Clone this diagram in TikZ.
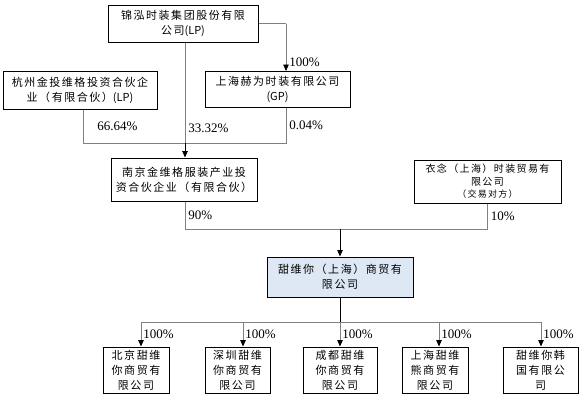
\documentclass[tikz,border=0pt]{standalone}
\usepackage{fontspec}
\setmainfont{Liberation Serif}
\newfontfamily\cjk[LetterSpace=14]{Noto Sans CJK SC}
\newfontfamily\cjklat{Noto Sans CJK SC}
\newcommand{\lat}[1]{{\cjklat #1}}
\usetikzlibrary{arrows.meta}
\definecolor{twfill}{HTML}{DDE8F4}

\tikzset{
  firm/.style={draw, line width=1pt, align=center, inner sep=0pt,
    font=\cjk\fontsize{11}{15}\selectfont},
  pct/.style={anchor=west, inner sep=0pt, xshift=3pt, font=\fontsize{13}{13}\selectfont},
  link/.style={draw=gray, line width=0.8pt},
  arr/.style={line width=0.8pt, -{Triangle[length=6.5pt,width=5.5pt,color=black]}}
}

\begin{document}
\begin{tikzpicture}[x=1pt,y=-1pt]
\useasboundingbox (0,0) rectangle (586,400);

% shareholders
\node[firm, minimum width=150pt, minimum height=37pt] (jh) at (183,23.5) {锦泓时装集团股份有限\\公司\lat{(LP)}};
\node[firm, minimum width=154pt, minimum height=38pt] (hz) at (80,90) {杭州金投维格投资合伙企\\业（有限合伙）\lat{(LP)}};
\node[firm, minimum width=145pt, minimum height=36pt] (sh) at (277.5,89.5) {上海赫为时装有限公司\\\lat{(GP)}};
\node[firm, minimum width=146pt, minimum height=43pt] (nj) at (184,179.5) {南京金维格服装产业投\\资合伙企业（有限合伙）};
\node[firm, minimum width=147pt, minimum height=43pt, font=\cjk\fontsize{10}{12.5}\selectfont] (yn) at (487.5,181.5)
  {衣念（上海）时装贸易有\\限公司\\{\fontsize{9}{12.5}\selectfont（交易对方）}};

% target company
\node[firm, fill=twfill, minimum width=146pt, minimum height=40pt] (tw) at (340,277) {甜维你（上海）商贸有\\限公司};

% subsidiaries
\foreach \n/\x/\w/\txt in {1/136/66/{北京甜维\\你商贸有\\限公司},2/237.5/65/{深圳甜维\\你商贸有\\限公司},
  3/340/74/{成都甜维\\你商贸有\\限公司},4/435/66/{上海甜维\\熊商贸有\\限公司},5/540.5/75/{甜维你韩\\国有限公\\司}}
\node[firm, minimum width=\w pt, minimum height=46pt] (b\n) at (\x,370) {\txt};

% upper bus
\coordinate (u) at (185,143);
\coordinate (k) at (286,23.5);
\draw[link] (jh.east) -- (k);
\draw[link, arr] (k) -- node[pct, pos=0.82]{100\%} (k |- sh.north);
\draw[link] ([xshift=3pt]hz.south) -- node[pct, xshift=11pt]{66.64\%} ([xshift=3pt]hz.south |- u) -- (u);
\draw[link] (jh.south -| u) -- node[pct, pos=0.85]{33.32\%} (u);
\draw[link] (k |- sh.south) -- node[pct]{0.04\%} (k |- u) -- (u);
\draw[arr] (u) -- (u |- nj.north);

% middle bus
\coordinate (m) at (340,229);
\draw[link] ([xshift=1pt]nj.south) -- node[pct]{90\%} ([xshift=1pt]nj.south |- m) -- (m);
\draw[link] (yn.south) -- node[pct]{10\%} (yn.south |- m) -- (m);
\draw[arr] (m) -- (tw.north);

% lower bus
\coordinate (l) at (340,322);
\draw[line width=0.8pt] (tw.south) -- (l);
\foreach \n/\ax in {1/141,2/243,3/340,4/439,5/541}
{
\coordinate (d\n) at (\ax,322);
\draw[link, arr] (d\n) -- node[pct, xshift=-1pt]{100\%} (d\n |- b\n.north);
}
\draw[link] (d1) -- (d5);

\end{tikzpicture}
\end{document}
